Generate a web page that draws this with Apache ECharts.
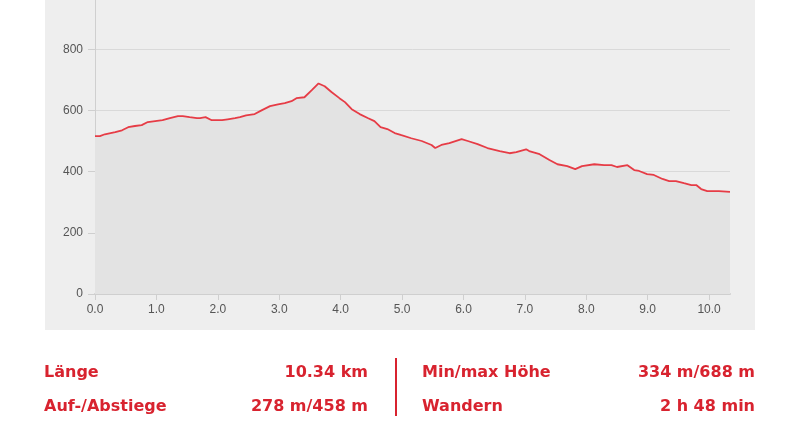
<!DOCTYPE html>
<html><head><meta charset="utf-8">
<script src="https://cdn.jsdelivr.net/npm/echarts@6/dist/echarts.min.js"></script>
<style>html,body{margin:0;padding:0;background:#fff}#c{width:800px;height:433px}</style>
</head><body><div id="c"></div>
<script>
const distances = [0,0.08,0.16,0.33,0.44,0.54,0.65,0.76,0.86,0.98,1.1,1.22,1.35,1.43,1.54,1.66,1.71,1.8,1.9,2.07,2.16,2.28,2.36,2.46,2.6,2.72,2.85,2.98,3.09,3.2,3.28,3.41,3.53,3.64,3.74,3.85,3.98,4.07,4.18,4.31,4.44,4.55,4.65,4.76,4.88,4.99,5.15,5.32,5.48,5.54,5.64,5.77,5.97,6.07,6.23,6.39,6.59,6.75,6.86,7.02,7.07,7.24,7.4,7.53,7.69,7.82,7.93,8.13,8.29,8.41,8.5,8.67,8.78,8.86,8.99,9.1,9.24,9.35,9.46,9.59,9.71,9.79,9.87,9.97,10.16,10.34];
const elevations = [516,516,522,529,535,545,549,552,562,565,568,575,581,581,578,575,575,578,568,568,571,575,578,584,588,601,614,620,624,630,640,643,666,688,679,660,640,627,604,588,575,565,545,539,526,519,509,500,487,477,487,493,506,500,490,477,467,460,464,473,467,457,438,424,418,408,418,424,421,421,415,421,405,402,392,389,376,369,369,362,356,356,343,336,336,334];
const xTicks = {min: 0, max: 10.34, interval: 1};
const yTicks = {min: 0, max: 1000, interval: 200};
const statLabels = ['Länge', 'Auf-/Abstiege', 'Min/max Höhe', 'Wandern'];
const statValues = ['10.34 km', '278 m/458 m', '334 m/688 m', '2 h 48 min'];

const red = '#d8232f';
const fontT = {fontFamily: 'DejaVu Sans', fontWeight: 'bold', fontSize: 16, fill: red};
const graphics = [
  {type: 'rect', z: -10, shape: {x: 45, y: 0, width: 710, height: 330}, style: {fill: '#eeeeee'}},
  {type: 'rect', shape: {x: 395, y: 358, width: 2, height: 58}, style: {fill: red}},
];
const pos = [[44, 368, 373], [44, 368, 407], [422, 755, 373], [422, 755, 407]];
statLabels.forEach((t, i) => {
  graphics.push({type: 'text', style: Object.assign({text: t, x: pos[i][0], y: pos[i][2], textAlign: 'left', textVerticalAlign: 'middle'}, fontT)});
  graphics.push({type: 'text', style: Object.assign({text: statValues[i], x: pos[i][1], y: pos[i][2], textAlign: 'right', textVerticalAlign: 'middle'}, fontT)});
});

const chart = echarts.init(document.getElementById('c'));
chart.setOption({
  animation: false,
  graphic: graphics,
  grid: {left: 95, right: 70, top: -12, bottom: 139, outerBoundsMode: 'none', containLabel: false},
  xAxis: {
    type: 'value', min: xTicks.min, max: xTicks.max, interval: xTicks.interval,
    axisLine: {lineStyle: {color: '#cfcfcf', width: 2}},
    axisTick: {show: true, length: 6, lineStyle: {color: '#cfcfcf'}},
    axisLabel: {color: '#555', fontFamily: 'Liberation Sans', fontSize: 12, margin: 10, showMaxLabel: false, formatter: v => v.toFixed(1)},
    splitLine: {show: false}
  },
  yAxis: {
    type: 'value', min: yTicks.min, max: yTicks.max, interval: yTicks.interval,
    axisLine: {show: true, lineStyle: {color: '#cfcfcf'}},
    axisTick: {show: true, length: 7, lineStyle: {color: '#cfcfcf'}},
    axisLabel: {color: '#555', fontFamily: 'Liberation Sans', fontSize: 12, margin: 12},
    splitLine: {lineStyle: {color: '#d9d9d9'}}
  },
  series: [{
    type: 'line',
    data: distances.map((d, i) => [d, elevations[i]]),
    showSymbol: false,
    lineStyle: {color: '#e63c46', width: 1.8},
    areaStyle: {color: '#e3e3e3', opacity: 1},
    z: 2
  }]
});
</script></body></html>
